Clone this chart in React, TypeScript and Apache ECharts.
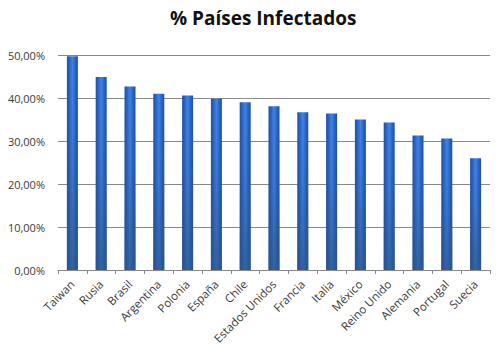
import React, { useEffect, useRef } from "react";
import * as echarts from "echarts";

const categories = [
  "Taiwan", "Rusia", "Brasil", "Argentina", "Polonia", "España", "Chile",
  "Estados Unidos", "Francia", "Italia", "México", "Reino Unido", "Alemania",
  "Portugal", "Suecia",
];
const values = [
  0.497, 0.449, 0.427, 0.41, 0.406, 0.398, 0.39, 0.381, 0.367, 0.364,
  0.35, 0.343, 0.313, 0.306, 0.26,
];
const titleText = "% Países Infectados";
const yMax = 0.5;
const yStep = 0.1;

const fmt = (v: number) => (v * 100).toFixed(2).replace(".", ",") + "%";

export default function App() {
  const ref = useRef<HTMLDivElement>(null);
  useEffect(() => {
    const chart = echarts.init(ref.current!, null, { renderer: "svg" });
    const font = "'Open Sans', 'Noto Sans', sans-serif";
    chart.setOption({
      animation: false,
      backgroundColor: "#ffffff",
      title: {
        text: titleText,
        left: 165,
        top: 3,
        textStyle: { fontFamily: font, fontWeight: "bold", fontSize: 19, color: "#111" },
      },
      grid: { left: 58, right: 9, top: 55, bottom: 94 },
      xAxis: {
        type: "category",
        data: categories,
        axisLine: { lineStyle: { color: "#888", width: 1 } },
        axisTick: { show: true, interval: 0, length: 4, lineStyle: { color: "#888" } },
        axisLabel: {
          interval: 0,
          rotate: 45,
          margin: 12,
          fontFamily: font,
          fontSize: 11.5,
          color: "#3a3a3a",
        },
      },
      yAxis: {
        type: "value",
        min: 0,
        max: yMax,
        interval: yStep,
        axisLine: { show: false },
        axisTick: { show: false },
        splitLine: { lineStyle: { color: "#8a8a8a", width: 1 } },
        axisLabel: {
          formatter: (v: number) => fmt(v),
          margin: 13,
          fontFamily: font,
          fontSize: 11,
          color: "#3a3a3a",
        },
      },
      series: [
        {
          type: "bar",
          data: values,
          barWidth: 11,
          itemStyle: {
            color: new echarts.graphic.LinearGradient(0, 0, 1, 0, [
              { offset: 0, color: "#22509a" },
              { offset: 0.25, color: "#2b64cc" },
              { offset: 0.5, color: "#3f86e2" },
              { offset: 0.75, color: "#2b64cc" },
              { offset: 1, color: "#22509a" },
            ]),
          },
        },
        {
          type: "bar",
          data: values,
          barWidth: 11,
          barGap: "-100%",
          silent: true,
          itemStyle: {
            color: new echarts.graphic.LinearGradient(0, 0, 0, 1, [
              { offset: 0, color: "rgba(60,100,150,0)" },
              { offset: 0.5, color: "rgba(45,80,130,0.2)" },
              { offset: 1, color: "rgba(45,85,130,0.7)" },
            ]),
          },
        },
      ],
    });
    return () => chart.dispose();
  }, []);
  return <div ref={ref} style={{ width: 499, height: 364, position: "absolute", left: 0, top: 0 }} />;
}
